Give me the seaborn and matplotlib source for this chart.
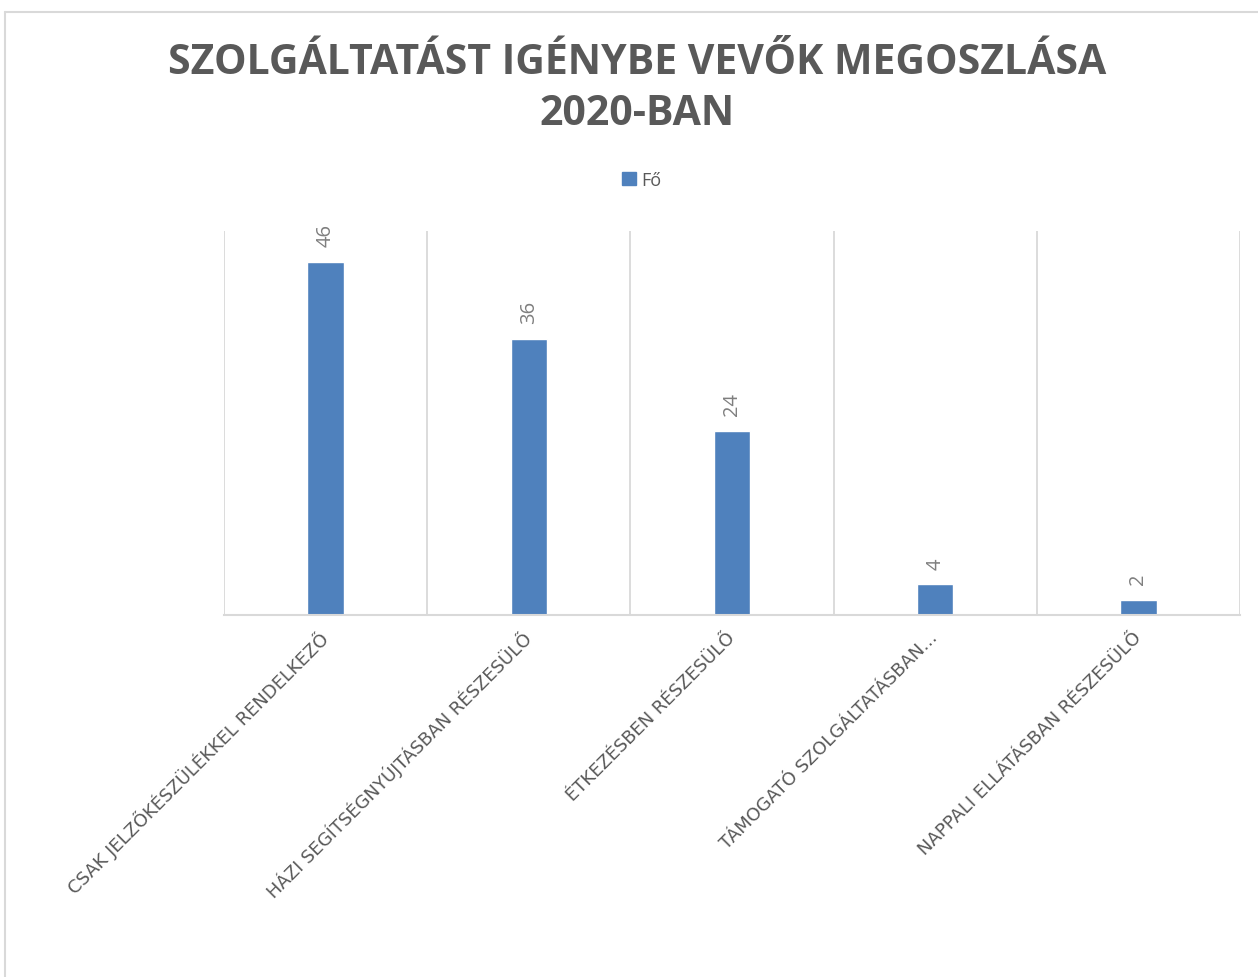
import matplotlib
matplotlib.use("Agg")
import matplotlib.pyplot as plt
import seaborn as sns
import pandas as pd
from matplotlib.lines import Line2D

categories = [
    "CSAK JELZŐKÉSZÜLÉKKEL RENDELKEZŐ",
    "HÁZI SEGÍTSÉGNYÚJTÁSBAN RÉSZESÜLŐ",
    "ÉTKEZÉSBEN RÉSZESÜLŐ",
    "TÁMOGATÓ SZOLGÁLTATÁSBAN...",
    "NAPPALI ELLÁTÁSBAN RÉSZESÜLŐ",
]
values = [46, 36, 24, 4, 2]
series_name = "Fő"
title_text = "SZOLGÁLTATÁST IGÉNYBE VEVŐK MEGOSZLÁSA\n2020-BAN"

df = pd.DataFrame({"category": categories, "value": values})

sns.set_theme(style="white")
plt.rcParams["font.family"] = ["Open Sans", "DejaVu Sans"]

W, H = 1258, 978
fig = plt.figure(figsize=(W / 100, H / 100), dpi=100)
ax = fig.add_axes([224 / W, 1 - 616 / H, (1240 - 224) / W, (616 - 232) / H])

bar_color = "#4F81BD"
sns.barplot(data=df, x="category", y="value", color=bar_color, width=0.18,
            ax=ax, saturation=1)

ax.set_ylim(0, 50)
ax.set_xlim(-0.5, len(categories) - 0.5)
ax.set_xlabel("")
ax.set_ylabel("")
ax.set_yticks([])
if ax.get_legend() is not None:
    ax.get_legend().remove()

grid_c = "#D9D9D9"
for b in [i - 0.5 for i in range(len(categories) + 1)]:
    ax.axvline(b, color=grid_c, lw=1.3, zorder=0)
for s in ["top", "right", "left"]:
    ax.spines[s].set_visible(False)
ax.spines["bottom"].set_color(grid_c)
ax.spines["bottom"].set_linewidth(1.5)

ax.tick_params(axis="x", length=0, pad=14, colors="#595959")
ax.set_xticks(range(len(categories)), labels=categories, rotation=45,
              ha="right", va="center", rotation_mode="anchor",
              fontsize=13, fontfamily="DejaVu Sans", color="#595959")

for cont in ax.containers:
    ax.bar_label(cont, labels=[str(v) for v in values], rotation=90,
                 padding=11, fontsize=14.5, color="#7F7F7F")

fig.text(637 / W, 1 - 89 / H, title_text, ha="center", va="center",
         fontsize=29.5, fontweight="bold", color="#595959", linespacing=1.33)

fig.legend(handles=[plt.Rectangle((0, 0), 1, 1, color=bar_color)],
           labels=[series_name], loc="center",
           bbox_to_anchor=(642 / W, 1 - 181 / H), frameon=False,
           handlelength=0.75, handleheight=0.75, handletextpad=0.3,
           prop={"size": 13}, labelcolor="#595959")

fig.add_artist(Line2D([5 / W, 1], [1 - 13 / H, 1 - 13 / H], color=grid_c,
                      lw=1.5, transform=fig.transFigure))
fig.add_artist(Line2D([5 / W, 5 / W], [0, 1 - 13 / H], color=grid_c,
                      lw=1.5, transform=fig.transFigure))

fig.savefig("out.png", dpi=100)
